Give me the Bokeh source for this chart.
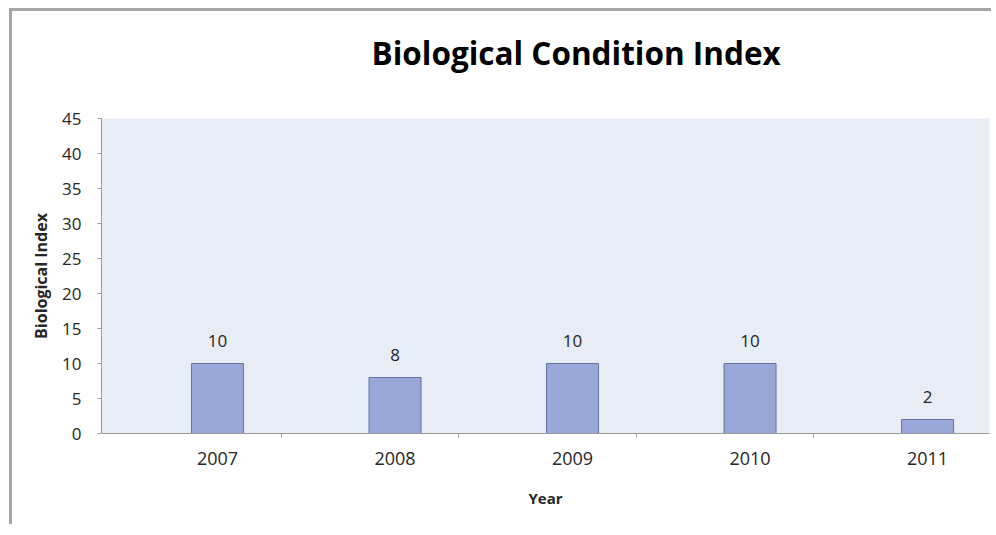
from bokeh.plotting import figure
from bokeh.models import FixedTicker, Range1d, Title, ColumnDataSource
from bokeh.core.properties import value
from bokeh.embed import file_html
from bokeh.resources import INLINE

years = ["2007", "2008", "2009", "2010", "2011"]
index_values = [10, 8, 10, 10, 2]
y_ticks = [0, 5, 10, 15, 20, 25, 30, 35, 40, 45]
title_text = "Biological Condition Index"

FONT = "Open Sans"
TEXT = "#262626"

xs = list(range(len(years)))
src = ColumnDataSource(dict(x=xs, top=index_values, label=[str(v) for v in index_values]))

p = figure(width=982, height=516, output_backend="svg", toolbar_location=None,
           x_range=Range1d(-0.6535, len(years) - 0.651), y_range=Range1d(0, 45),
           min_border_left=89, min_border_right=5, min_border_top=107, min_border_bottom=94)
p.styles = {"border-top": "3px solid #A6A6A6", "border-left": "3px solid #A6A6A6",
            "margin-top": "8px", "margin-left": "9px"}

p.background_fill_color = "#E7ECF5"
p.border_fill_color = "white"
p.outline_line_color = None
p.xgrid.grid_line_color = None
p.ygrid.grid_line_color = None

p.vbar(x="x", top="top", bottom=0, width=0.293, source=src,
       fill_color="#98A6D8", line_color="#66739F", line_width=1)
p.text(x="x", y="top", text="label", source=src, text_align="center",
       text_baseline="alphabetic", y_offset=-23, text_font=value(FONT),
       text_font_size="17px", text_color=TEXT)

# x axis
p.xaxis.ticker = FixedTicker(ticks=xs, minor_ticks=[i + 0.36 for i in xs])
p.xaxis.major_label_overrides = {i: y for i, y in zip(xs, years)}
p.xaxis.major_tick_out = 0
p.xaxis.major_tick_in = 0
p.xaxis.minor_tick_out = 4
p.xaxis.minor_tick_in = 0
p.xaxis.minor_tick_line_color = "#9A9A9A"
p.xaxis.axis_line_color = "#9A9A9A"
p.xaxis.major_label_text_font = FONT
p.xaxis.major_label_text_font_size = "18px"
p.xaxis.major_label_text_color = TEXT
p.xaxis.major_label_standoff = 14
p.xaxis.axis_label = "Year"
p.xaxis.axis_label_text_font = FONT
p.xaxis.axis_label_text_font_size = "15px"
p.xaxis.axis_label_text_font_style = "bold"
p.xaxis.axis_label_text_color = TEXT
p.xaxis.axis_label_standoff = 20

# y axis
p.yaxis.ticker = FixedTicker(ticks=y_ticks)
p.yaxis.minor_tick_line_color = None
p.yaxis.major_tick_out = 4
p.yaxis.major_tick_in = 0
p.yaxis.major_tick_line_color = "#9A9A9A"
p.yaxis.axis_line_color = "#9A9A9A"
p.yaxis.major_label_text_font = FONT
p.yaxis.major_label_text_font_size = "17px"
p.yaxis.major_label_text_color = TEXT
p.yaxis.major_label_standoff = 16
p.yaxis.axis_label = "Biological Index"
p.yaxis.axis_label_text_font = FONT
p.yaxis.axis_label_text_font_size = "16px"
p.yaxis.axis_label_text_font_style = "bold"
p.yaxis.axis_label_text_color = TEXT
p.yaxis.axis_label_standoff = 7

# spacer between frame and title, then the title itself
spacer = Title(text=" ", text_font_size="1px", standoff=42)
p.add_layout(spacer, "above")
t = Title(text=title_text, align="left", offset=270,
          text_font=FONT, text_font_size="31.5px", text_font_style="bold",
          text_color="black", standoff=0)
p.add_layout(t, "above")

open("out.html", "w").write(file_html(p, INLINE))
